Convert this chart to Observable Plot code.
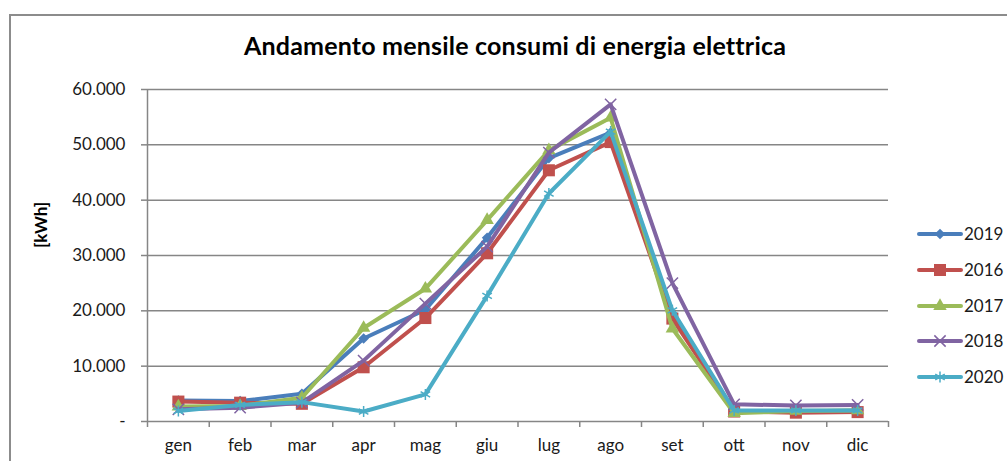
<!DOCTYPE html>
<html><head><meta charset="utf-8">
<script src="https://cdn.jsdelivr.net/npm/d3@7"></script>
<script src="https://cdn.jsdelivr.net/npm/@observablehq/plot@0.6"></script>
<style>
html,body{margin:0;padding:0;background:#fff;}
#wrap{position:relative;width:1007px;height:461px;overflow:hidden;font-family:Lato,"Open Sans",sans-serif;}
#border{position:absolute;left:9px;top:14px;width:1100px;height:500px;border:2px solid #8c8c8c;box-sizing:border-box;}
#title{position:absolute;left:0;top:30px;width:1030px;text-align:center;font-weight:bold;font-size:25px;color:#000;letter-spacing:0.2px;}
#ylab{position:absolute;left:40px;top:225px;transform:translate(-50%,-50%) rotate(-90deg);font-weight:bold;font-size:17px;color:#000;white-space:nowrap;}
#plot{position:absolute;left:0;top:0;}
#legend{position:absolute;left:0;top:0;}
</style></head>
<body><div id="wrap"><div id="border"></div><div id="title">Andamento mensile consumi di energia elettrica</div><div id="ylab">[kWh]</div><div id="plot"></div><div id="legend"></div></div>
<script>
const months = ["gen","feb","mar","apr","mag","giu","lug","ago","set","ott","nov","dic"];
const seriesNames = ["2019","2016","2017","2018","2020"];
const v2019 = [3800, 3700, 5000, 15000, 20200, 33200, 47600, 52200, 19500, 1900, 1800, 2000];
const v2016 = [3600, 3400, 3200, 9800, 18700, 30400, 45400, 50500, 18600, 1800, 1600, 1700];
const v2017 = [2700, 2800, 4300, 16900, 24000, 36400, 49000, 54900, 16800, 1500, 1900, 2000];
const v2018 = [2200, 2500, 3400, 11000, 21300, 31600, 48600, 57300, 25000, 3100, 2900, 3000];
const v2020 = [1900, 3000, 3500, 1800, 4900, 22700, 41200, 52400, 20100, 2000, 2000, 2000];
const yTicks = [0, 10000, 20000, 30000, 40000, 50000, 60000];
const colors = ["#4a7ebb", "#c0504d", "#9bbb59", "#8064a2", "#4bacc6"];
const symbols = ["diamond2", "square", "triangle", "times", "asterisk"];
const markerSizes = [4.8, 6.8, 5, 5.2, 5.2];
const filled = [true, true, true, false, false];

const allValues = [v2019, v2016, v2017, v2018, v2020];
const data = [];
seriesNames.forEach((s, si) => allValues[si].forEach((v, i) => data.push({series: s, si, month: months[i], i, value: v})));

const fmt = d => d === 0 ? "-" : d3.format(",")(d).replace(/,/g, ".");
const gray = "#868686";

const marks = [
  Plot.ruleY(yTicks, {stroke: gray, strokeWidth: 1.5, x1: 0, x2: 12}),
  Plot.ruleX([0], {stroke: gray, strokeWidth: 1.5}),
  Plot.axisY({ticks: yTicks, tickFormat: fmt, tickSize: 6, tickPadding: 16, stroke: gray, strokeWidth: 1.5, fontSize: 17, fill: "#1a1a1a", label: null}),
  Plot.axisX({ticks: d3.range(0, 13), tickFormat: () => "", tickSize: 6, stroke: gray, strokeWidth: 1.5, label: null}),
  Plot.axisX({ticks: d3.range(12).map(i => i + 0.5), tickFormat: d => months[Math.round(d - 0.5)], tickSize: 0, tickPadding: 17, fontSize: 17, fill: "#1a1a1a", label: null})
];
seriesNames.forEach((s, si) => {
  const d = data.filter(r => r.si === si);
  marks.push(Plot.line(d, {x: r => r.i + 0.5, y: "value", stroke: colors[si], strokeWidth: 4, strokeLinejoin: "round"}));
  marks.push(Plot.dot(d, {x: r => r.i + 0.5, y: "value", symbol: symbols[si], r: markerSizes[si],
    fill: filled[si] ? colors[si] : "none", stroke: colors[si], strokeWidth: filled[si] ? 0 : 1.5}));
});

const chart = Plot.plot({
  width: 1007, height: 461,
  marginLeft: 147, marginRight: 119, marginTop: 89, marginBottom: 40,
  style: {background: "transparent", fontFamily: "Lato, 'Open Sans', sans-serif"},
  x: {type: "linear", domain: [0, 12], axis: null},
  y: {domain: [0, 60000], axis: null},
  marks
});
document.getElementById("plot").appendChild(chart);

// legend
const legY = [234, 270, 306, 341, 377];
const symMap = {diamond2: d3.symbolDiamond2, square: d3.symbolSquare, triangle: d3.symbolTriangle, times: d3.symbolTimes, asterisk: d3.symbolAsterisk};
const leg = d3.select("#legend").append("svg").attr("width", 1007).attr("height", 461);
seriesNames.forEach((s, si) => {
  const g = leg.append("g").attr("transform", `translate(0,${legY[si]})`);
  g.append("line").attr("x1", 919).attr("x2", 961).attr("y1", 0).attr("y2", 0)
    .attr("stroke", colors[si]).attr("stroke-width", 4).attr("stroke-linecap", "round");
  const r = markerSizes[si];
  g.append("path").attr("transform", "translate(940,0)")
    .attr("d", d3.symbol(symMap[symbols[si]], Math.PI * r * r)())
    .attr("fill", filled[si] ? colors[si] : "none").attr("stroke", colors[si]).attr("stroke-width", filled[si] ? 0 : 1.5);
  g.append("text").attr("x", 964).attr("y", 0).attr("dy", "0.35em").attr("font-size", 17)
    .attr("font-family", "Lato, 'Open Sans', sans-serif").attr("fill", "#1a1a1a").text(s);
});
</script></body></html>
